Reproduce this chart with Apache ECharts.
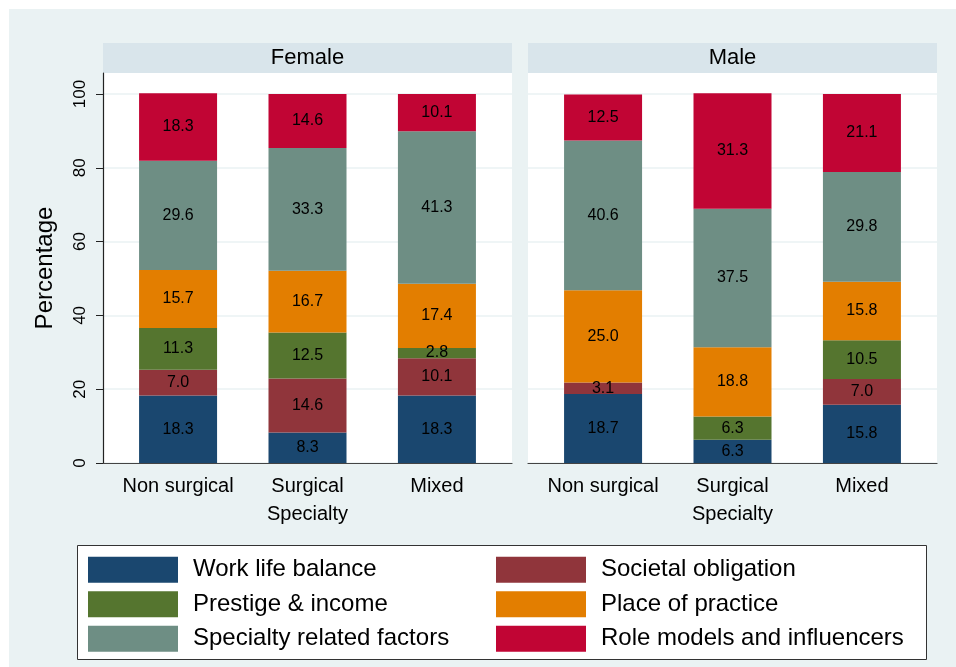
<!DOCTYPE html>
<html>
<head>
<meta charset="utf-8">
<script src="https://cdn.jsdelivr.net/npm/echarts@6/dist/echarts.min.js"></script>
<style>
html, body { margin: 0; padding: 0; background: #fff; }
#chart { position: absolute; left: 9px; top: 9px; width: 947px; height: 658px; }
</style>
</head>
<body>
<div id="chart"></div>
<script>
// categories and tick labels
const categories = ['Non surgical', 'Surgical\nSpecialty', 'Mixed']
const panels = ['Female', 'Male']
const yTicks = [0, 20, 40, 60, 80, 100]
const seriesNames = ['Work life balance', 'Societal obligation', 'Prestige & income',
	'Place of practice', 'Specialty related factors', 'Role models and influencers']
const colors = ['#1A476F', '#90353B', '#55752F', '#E37E00', '#6E8E84', '#C10534']

// Female values: Non surgical, Surgical, Mixed
const workLifeF = [18.3, 8.3, 18.3]
const societalF = [7.0, 14.6, 10.1]
const prestigeF = [11.3, 12.5, 2.8]
const placeF = [15.7, 16.7, 17.4]
const specialtyF = [29.6, 33.3, 41.3]
const roleF = [18.3, 14.6, 10.1]

// Male values
const workLifeM = [18.7, 6.3, 15.8]
const societalM = [3.1, 0, 7.0]
const prestigeM = [0, 6.3, 10.5]
const placeM = [25.0, 18.8, 15.8]
const specialtyM = [40.6, 37.5, 29.8]
const roleM = [12.5, 31.3, 21.1]

const panelData = [
	[workLifeF, societalF, prestigeF, placeF, specialtyF, roleF],
	[workLifeM, societalM, prestigeM, placeM, specialtyM, roleM]
]

const font = '"Liberation Sans", Arial, sans-serif'
const gridLefts = [94, 519]

let myChart = echarts.init(document.getElementById('chart'))

let grids = [], xAxes = [], yAxes = [], series = [], graphics = []
panels.forEach((p, pi) => {
	grids.push({
		left: gridLefts[pi], top: 64, width: 409, height: 390,
		show: true, backgroundColor: '#fff', borderWidth: 0
	})
	xAxes.push({
		type: 'value', gridIndex: pi, min: -0.58, max: 2.58,
		axisLine: { show: true, onZero: false, lineStyle: { color: '#444', width: 1.2 } },
		axisTick: { show: false, customValues: [0, 1, 2] },
		splitLine: { show: false },
		axisLabel: {
			customValues: [0, 1, 2],
			formatter: (v) => categories[Math.round(v)],
			color: '#000', fontSize: 20, fontFamily: font, lineHeight: 28, margin: 9
		}
	})
	yAxes.push({
		type: 'value', gridIndex: pi, min: 0, max: 105.7,
		name: pi == 0 ? 'Percentage' : '',
		nameLocation: 'middle', nameRotate: 90, nameGap: 46,
		nameTextStyle: { color: '#000', fontSize: 24, fontFamily: font },
		axisLine: { show: pi == 0, onZero: false, lineStyle: { color: '#222', width: 1.2 } },
		axisTick: { show: pi == 0, length: 7, customValues: yTicks, lineStyle: { color: '#222' } },
		splitLine: { show: true, lineStyle: { color: '#EAF2F3', width: 1.5 } },
		axisLabel: {
			show: pi == 0, customValues: yTicks, rotate: 90,
			color: '#000', fontSize: 17, fontFamily: font, margin: 14
		}
	})
	graphics.push({
		type: 'rect', shape: { x: gridLefts[pi], y: 34, width: 409, height: 30 },
		style: { fill: '#D9E5EB' }
	})
	graphics.push({
		type: 'text', x: gridLefts[pi] + 204.5, y: 49,
		style: { text: p, fill: '#000', font: '22px ' + font, textAlign: 'center', textVerticalAlign: 'middle' }
	})
	panelData[pi].forEach((vals, si) => {
		series.push({
			name: seriesNames[si],
			type: 'bar',
			xAxisIndex: pi, yAxisIndex: pi,
			stack: 'panel' + pi,
			barWidth: 78,
			// value first so the stack goes on the y dimension
			encode: { x: 1, y: 0 },
			itemStyle: { color: colors[si] },
			label: {
				show: true, position: 'inside', color: '#000', fontSize: 16, fontFamily: font,
				formatter: (d) => d.value[0] > 0 ? d.value[0].toFixed(1) : ''
			},
			emphasis: { disabled: true },
			data: vals.map((v, i) => [v, i])
		})
	})
})

// legend box
graphics.push({
	type: 'rect', z: -1, shape: { x: 68.5, y: 536.5, width: 849, height: 114 },
	style: { fill: '#fff', stroke: '#333', lineWidth: 1 }
})

let options = {
	backgroundColor: '#EAF2F3',
	animation: false,
	color: colors,
	grid: grids,
	xAxis: xAxes,
	yAxis: yAxes,
	graphic: { elements: graphics },
	legend: {
		data: seriesNames,
		left: 79, top: 545, width: 830, padding: 0,
		itemWidth: 90, itemHeight: 26, itemGap: 3,
		icon: 'rect',
		selectedMode: false,
		textStyle: {
			color: '#000', fontSize: 24, fontFamily: font,
			width: 300, lineHeight: 31.5, padding: [0, 0, 0, 10]
		}
	},
	series: series
}
myChart.setOption(options)
window.addEventListener('resize', () => {
	myChart.resize()
})
</script>
</body>
</html>
